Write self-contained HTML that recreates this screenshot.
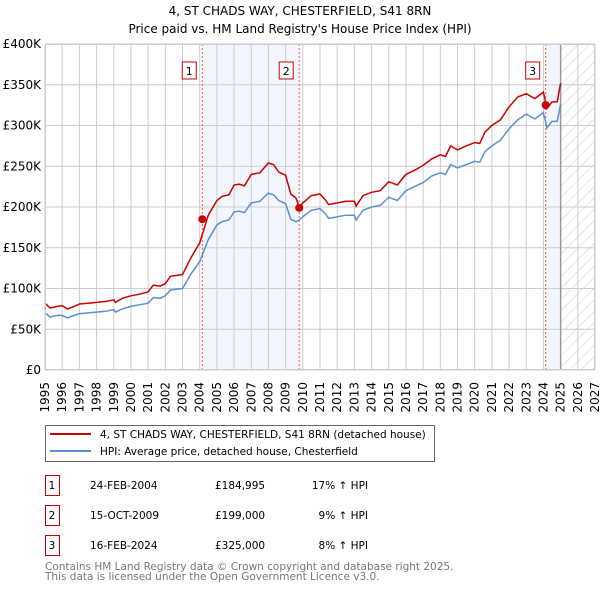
<!DOCTYPE html>
<html><head><meta charset="utf-8"><style>
body{margin:0;background:#fff;font-family:"DejaVu Sans","Liberation Sans",sans-serif;}
svg text{font-family:"DejaVu Sans","Liberation Sans",sans-serif;}
</style></head><body>
<svg id="c" width="600" height="590" xmlns="http://www.w3.org/2000/svg">
<defs><pattern id="hatch" width="8" height="8" patternUnits="userSpaceOnUse" patternTransform="rotate(45)"><line x1="0" y1="0" x2="0" y2="8" stroke="#ccc" stroke-width="1"/></pattern></defs>
<text x="300" y="15" text-anchor="middle" font-size="12" fill="#000">4, ST CHADS WAY, CHESTERFIELD, S41 8RN</text>
<text x="300" y="33" text-anchor="middle" font-size="12" fill="#000">Price paid vs. HM Land Registry's House Price Index (HPI)</text>
<g id="plot"></g>
<g>
<rect x="45.5" y="425.5" width="389" height="36" fill="#fff" stroke="#666"/>
<line x1="50" y1="434" x2="91" y2="434" stroke="#cc0000" stroke-width="2"/>
<text x="100" y="438" font-size="10.5">4, ST CHADS WAY, CHESTERFIELD, S41 8RN (detached house)</text>
<line x1="50" y1="451" x2="91" y2="451" stroke="#5b8fcf" stroke-width="2"/>
<text x="100" y="455" font-size="10.5">HPI: Average price, detached house, Chesterfield</text>
</g>
<g id="table" font-size="10.5"></g>
<text x="45" y="570" font-size="10.5" fill="#777">Contains HM Land Registry data © Crown copyright and database right 2025.</text>
<text x="45" y="580" font-size="10.5" fill="#777">This data is licensed under the Open Government Licence v3.0.</text>
</svg>
<script>
const hpiYears=[1995,1995.3,1995.7,1996,1996.3,1996.7,1997,1997.5,1998,1998.5,1999,1999.1,1999.5,2000,2000.5,2001,2001.3,2001.7,2002,2002.3,2002.6,2003,2003.5,2004,2004.5,2005,2005.3,2005.7,2006,2006.3,2006.6,2007,2007.5,2008,2008.3,2008.6,2009,2009.3,2009.6,2009.8,2010,2010.5,2011,2011.3,2011.5,2012,2012.5,2013,2013.1,2013.5,2014,2014.5,2015,2015.5,2016,2016.5,2017,2017.5,2018,2018.3,2018.6,2019,2019.5,2020,2020.3,2020.6,2021,2021.5,2022,2022.5,2023,2023.5,2024,2024.2,2024.5,2024.8,2025];
const hpiValues=[70,65,67,67,64,67,69,70,71,72,74,71,75,78,80,82,89,88,91,98,99,100,118,133,160,178,182,184,194,195,193,205,207,217,215,208,204,185,182,184,188,196,198,192,186,188,190,190,184,196,200,202,212,208,220,225,230,238,242,240,252,248,252,256,255,268,275,282,296,307,314,308,316,297,305,305,326];
const priceValues=[82,76,78,79,75,78,81,82,83,84,86,83,88,91,93,96,104,103,106,115,116,117,138,156,190,208,213,215,227,228,226,240,242,254,252,243,239,216,211,200,205,214,216,209,203,205,207,207,201,214,218,220,231,227,240,245,251,259,264,262,275,270,275,279,278,292,300,307,323,335,339,333,341,321,329,329,352];
const saleDates=[2004.15,2009.79,2024.13];
const salePrices=[184995,199000,325000];
const saleLabels=["1","2","3"];
const saleDateText=["24-FEB-2004","15-OCT-2009","16-FEB-2024"];
const salePriceText=["£184,995","£199,000","£325,000"];
const saleHpiText=["17% ↑ HPI","9% ↑ HPI","8% ↑ HPI"];
const yTicks=[0,50,100,150,200,250,300,350,400];
const yTickLabels=["£0","£50K","£100K","£150K","£200K","£250K","£300K","£350K","£400K"];
const xTicks=[1995,1996,1997,1998,1999,2000,2001,2002,2003,2004,2005,2006,2007,2008,2009,2010,2011,2012,2013,2014,2015,2016,2017,2018,2019,2020,2021,2022,2023,2024,2025,2026,2027];

const L=45,R=595,T=44,B=370,x0=1995,x1=2027,ymax=400;
const X=v=>L+(v-x0)/(x1-x0)*(R-L);
const Y=v=>B-v/ymax*(B-T);
const NS="http://www.w3.org/2000/svg";
const g=document.getElementById('plot');
function mk(tag,attrs,parent){const e=document.createElementNS(NS,tag);for(const k in attrs)e.setAttribute(k,attrs[k]);(parent||g).appendChild(e);return e;}
let s=mk('rect',{x:X(saleDates[0]),y:T,width:X(saleDates[1])-X(saleDates[0]),height:B-T,fill:'#eef3fc',opacity:0.7});


s=mk('rect',{x:X(saleDates[2]),y:T,width:X(2025)-X(saleDates[2]),height:B-T,fill:'#eef3fc',opacity:0.7});


s=mk('rect',{x:X(2025),y:T,width:R-X(2025),height:B-T,fill:'url(#hatch)'});


xTicks.forEach((t,i)=>{
 const l=mk('line',{x1:X(t),x2:X(t),y1:T,y2:B,stroke:'#ccc','stroke-width':1});
 
 
 const tx=mk('text',{x:0,y:0,'font-size':12,'text-anchor':'end',transform:`translate(${X(t)+4},${B+12}) rotate(-90)`});
 tx.textContent=t;
 
 
});
yTicks.forEach((t,i)=>{
 const l=mk('line',{x1:L,x2:R,y1:Y(t),y2:Y(t),stroke:'#ccc','stroke-width':1});
 
 
 const tx=mk('text',{x:L-4,y:Y(t)+4,'font-size':12,'text-anchor':'end'});
 tx.textContent=yTickLabels[i];
 
 
});
let nl=mk('line',{x1:X(2025),x2:X(2025),y1:T,y2:B,stroke:'#999','stroke-width':1.5});


saleDates.forEach((d,i)=>{
 const l=mk('line',{x1:X(d),x2:X(d),y1:T,y2:B,stroke:'#e55','stroke-width':1,'stroke-dasharray':'2,2'});
 
 
});
function path(vals){return hpiYears.map((yr,i)=>(i?'L':'M')+X(yr).toFixed(1)+','+Y(vals[i]).toFixed(1)).join('');}
let hp=mk('path',{d:path(hpiValues),fill:'none',stroke:'#5b8fcf','stroke-width':1.5});


let pp=mk('path',{d:path(priceValues),fill:'none',stroke:'#cc0000','stroke-width':1.5});


saleDates.forEach((d,i)=>{
 const c=mk('circle',{cx:X(d),cy:Y(salePrices[i]/1000),r:4,fill:'#cc0000'});
 
 
 const b=mk('rect',{x:X(d)-20,y:62,width:14,height:17,fill:'#fff',stroke:'#cc0000'});
 
 
 const t=mk('text',{x:X(d)-13,y:75,'font-size':11,'text-anchor':'middle'});
 t.textContent=saleLabels[i];
 
 
});
let fr=mk('rect',{x:L+0.5,y:T+0.5,width:R-L-1,height:B-T-1,fill:'none',stroke:'#ccc'});


const tb=document.getElementById('table');
saleLabels.forEach((lab,i)=>{
 const top=475+i*30;
 const r=mk('rect',{x:45.5,y:top+0.5,width:14,height:20,fill:'#fff',stroke:'#cc0000'},tb);
 
 
 const cells=[[52,'middle',lab],[90,'start',saleDateText[i]],[215,'start',salePriceText[i]],[368,'end',saleHpiText[i]]];
 cells.forEach(c=>{const t=mk('text',{x:c[0],y:top+14,'text-anchor':c[1]},tb);t.textContent=c[2];
 
 });
});
</script>
</body></html>
